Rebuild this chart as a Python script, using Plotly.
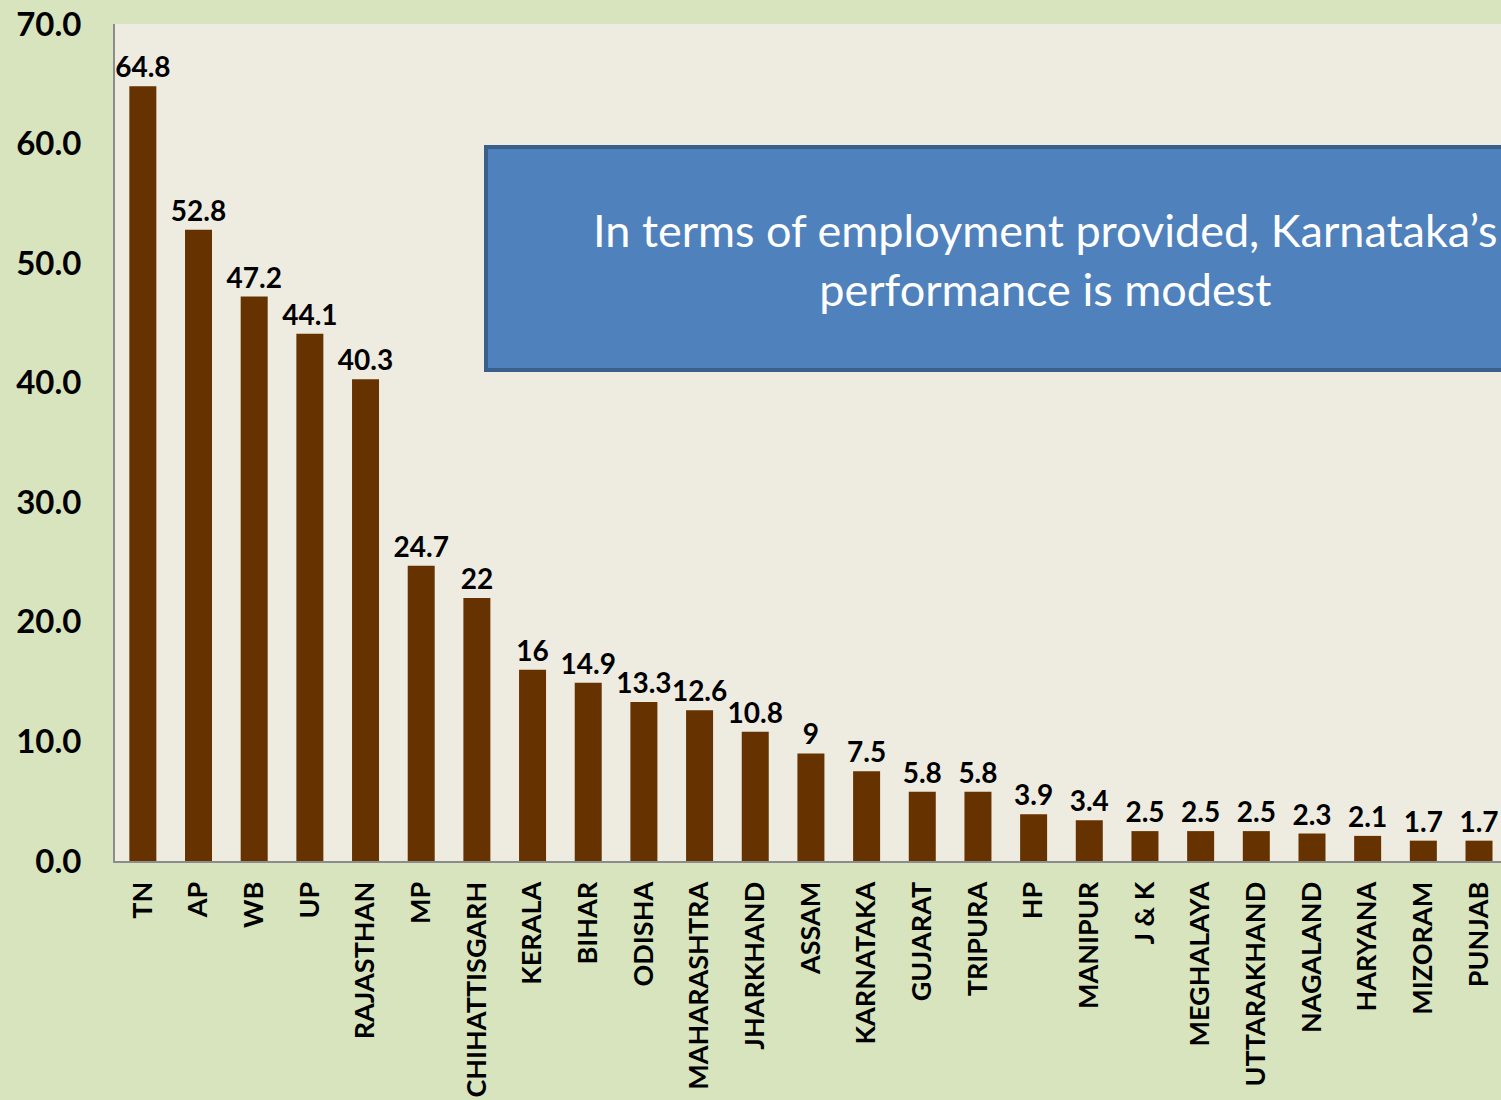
import plotly.graph_objects as go

states = ["TN", "AP", "WB", "UP", "RAJASTHAN", "MP", "CHIHATTISGARH", "KERALA", "BIHAR",
          "ODISHA", "MAHARASHTRA", "JHARKHAND", "ASSAM", "KARNATAKA", "GUJARAT", "TRIPURA",
          "HP", "MANIPUR", "J & K", "MEGHALAYA", "UTTARAKHAND", "NAGALAND", "HARYANA",
          "MIZORAM", "PUNJAB"]
values = [64.8, 52.8, 47.2, 44.1, 40.3, 24.7, 22, 16, 14.9, 13.3, 12.6, 10.8, 9, 7.5,
          5.8, 5.8, 3.9, 3.4, 2.5, 2.5, 2.5, 2.3, 2.1, 1.7, 1.7]
value_labels = ["64.8", "52.8", "47.2", "44.1", "40.3", "24.7", "22", "16", "14.9", "13.3",
                "12.6", "10.8", "9", "7.5", "5.8", "5.8", "3.9", "3.4", "2.5", "2.5", "2.5",
                "2.3", "2.1", "1.7", "1.7"]
y_ticks = [0, 10, 20, 30, 40, 50, 60, 70]
note = "In terms of employment provided, Karnataka’s<br>performance is modest"

W, H = 1501, 1100
L, R, T, B = 115, 0, 24, 239

fig = go.Figure()
fig.add_trace(go.Bar(
    x=list(range(len(states))), y=values,
    marker=dict(color="#663300", line=dict(width=0)),
    width=0.485,
    text=value_labels, textposition="outside", constraintext="none",
    textfont=dict(family="Lato", size=28, color="#000000", weight="bold"),
    cliponaxis=False,
))

fig.update_layout(
    width=W, height=H,
    margin=dict(l=L, r=R, t=T, b=B, pad=0),
    paper_bgcolor="#D7E4BD",
    plot_bgcolor="#EEECE1",
    showlegend=False,
    font=dict(family="Lato", color="#000000"),
)
fig.update_xaxes(
    range=[-0.5, 24.395], automargin=False,
    tickmode="array", tickvals=list(range(len(states))), ticktext=states,
    tickangle=-90,
    tickfont=dict(family="Lato", size=27, color="#000000", weight="bold"),
    showline=True, linecolor="#8C8C8C", linewidth=2,
    showgrid=False, ticks="", ticklabelstandoff=8,
)
fig.update_yaxes(
    range=[0, 70], automargin=False,
    tickmode="array", tickvals=y_ticks, ticktext=[f"{v:.1f}" for v in y_ticks],
    tickfont=dict(family="Lato", size=33, color="#000000", weight="bold"),
    showline=True, linecolor="#8C8C8C", linewidth=2,
    showgrid=False, zeroline=False, ticks="", ticklabelstandoff=25,
)

pw = W - L - R
ph = H - T - B
def px_x(p):
    return (p - L) / pw
def px_y(p):
    return (H - B - p) / ph

fig.add_shape(type="rect", xref="paper", yref="paper",
              x0=px_x(486), x1=px_x(1620), y0=px_y(370), y1=px_y(147),
              fillcolor="#4F81BD", line=dict(color="#3A5F8B", width=4))
fig.add_annotation(xref="paper", yref="paper", x=px_x(1045), y=px_y(259),
                   text=note, showarrow=False, xanchor="center", yanchor="middle",
                   align="center",
                   font=dict(family="Lato", size=45, color="#FFFFFF"))

fig.write_html("out.html")
